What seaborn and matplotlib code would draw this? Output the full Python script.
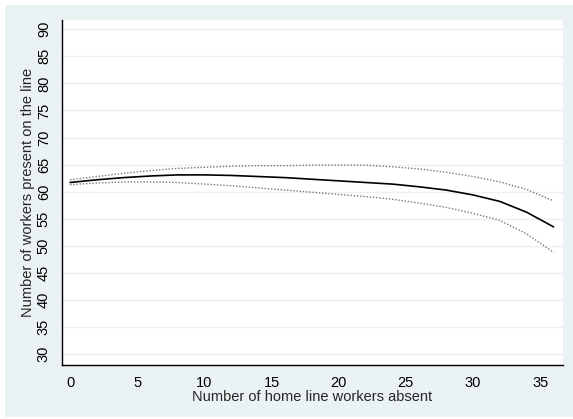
import pandas as pd
import seaborn as sns
from matplotlib import pyplot as plt
from matplotlib.patches import Rectangle

# values
absent = [0, 2, 4, 6, 8, 10, 12, 14, 16, 18, 20, 22, 24, 26, 28, 30, 32, 34, 36]
fit = [61.7, 62.2, 62.6, 62.9, 63.1, 63.1, 63.0, 62.8, 62.6, 62.3, 62.0, 61.7, 61.4, 60.9, 60.3, 59.4, 58.2,
       56.2, 53.5]
upper = [62.2, 62.8, 63.4, 63.9, 64.3, 64.5, 64.7, 64.8, 64.8, 64.9, 64.9, 64.9, 64.6, 64.2, 63.6, 62.8, 61.8,
         60.4, 58.3]
lower = [61.3, 61.6, 61.8, 61.8, 61.7, 61.4, 61.1, 60.7, 60.3, 59.9, 59.5, 59.1, 58.6, 57.9, 57.1, 56.0, 54.7,
         52.2, 48.8]
xticks = list(range(0, 40, 5))
yticks = list(range(30, 95, 5))

BG = '#eaf2f3'


def plot_fit(df):
    fig = plt.figure(figsize=(5.73, 4.19), dpi=100, facecolor='white')
    # stata-like outer panel, slightly cropped at the top/left
    fig.patches.append(Rectangle((5 / 573, 2 / 419), 1, 412 / 419, transform=fig.transFigure,
                                 facecolor=BG, edgecolor='none', zorder=-10))
    ax = fig.add_axes([62 / 573, 1 - 365 / 419, 501 / 573, 345 / 419])
    ax.set_facecolor('white')
    sns.lineplot(x='absent', y='upper', data=df, ax=ax, color='#777777', lw=1, linestyle=(0, (1, 1.3)))
    sns.lineplot(x='absent', y='lower', data=df, ax=ax, color='#777777', lw=1, linestyle=(0, (1, 1.3)))
    sns.lineplot(x='absent', y='fit', data=df, ax=ax, color='black', lw=1.2)
    ax.set_xlim(-0.6, 36.7)
    ax.set_ylim(28.0, 91.7)
    ax.set_xticks(xticks)
    ax.set_yticks(yticks)
    ax.set_yticklabels([str(t) for t in yticks], rotation=90, va='center')
    ax.grid(axis='y', color=BG, lw=1)
    ax.grid(axis='x', visible=False)
    ax.set_axisbelow(True)
    sns.despine(ax=ax)
    for s in ['left', 'bottom']:
        ax.spines[s].set_color('black')
        ax.spines[s].set_linewidth(1)
    ax.tick_params(axis='both', direction='out', length=5, width=1, colors='black', labelsize=10.5, pad=3)
    ax.set_xlabel('Number of home line workers absent', fontsize=10.5, labelpad=0)
    ax.set_ylabel('Number of workers present on the line', fontsize=10.5, labelpad=1)
    fig.savefig('out.png', dpi=100, facecolor='white')


if __name__ == '__main__':
    sns.set_style('white')
    plt.rcParams['font.family'] = ['Liberation Sans', 'DejaVu Sans']
    data = pd.DataFrame({'absent': absent, 'fit': fit, 'upper': upper, 'lower': lower})
    plot_fit(data)
